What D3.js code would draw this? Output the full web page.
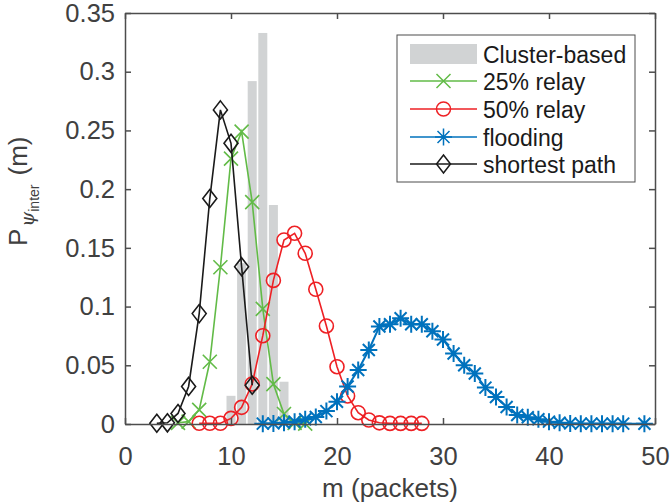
<!DOCTYPE html>
<html>
<head>
<meta charset="utf-8">
<script src="https://cdn.jsdelivr.net/npm/d3@7"></script>
<style>
  body { margin: 0; background: #fff; }
  svg { font-family: "Liberation Sans", Arial, Helvetica, sans-serif; }
</style>
</head>
<body>
<div id="chart"></div>
<script>
// data
const barM = [10, 11, 12, 13, 14, 15];
const barP = [0.024, 0.137, 0.292, 0.333, 0.1865, 0.036];

const relay25M = [5, 6, 7, 8, 9, 10, 11, 12, 13, 14, 15, 16, 17];
const relay25P = [0.001, 0.002, 0.012, 0.053, 0.1335, 0.226, 0.249, 0.189, 0.098, 0.034, 0.0085, 0.001, 0.0003];

const relay50M = [7, 8, 9, 10, 11, 12, 13, 14, 15, 16, 17, 18, 19, 20, 21, 22, 23, 24, 25, 26, 27, 28];
const relay50P = [0.0006, 0.0006, 0.0006, 0.0048, 0.0142, 0.0341, 0.0752, 0.1223, 0.1567, 0.1624, 0.1454,
                  0.1147, 0.0835, 0.0488, 0.0239, 0.0096, 0.0034, 0.001, 0.0005, 0.0005, 0.0005, 0.0005];

const floodM = [13, 14, 15, 16, 17, 18, 19, 20, 21, 22, 23, 24, 25, 26, 27, 28, 29, 30, 31, 32, 33, 34, 35,
                36, 37, 38, 39, 40, 41, 42, 43, 44, 45, 46, 47, 49];
const floodP = [0.0003, 0.0005, 0.001, 0.002, 0.004, 0.006, 0.011, 0.019, 0.032, 0.046, 0.063, 0.083, 0.085,
                0.090, 0.085, 0.085, 0.079, 0.072, 0.060, 0.050, 0.043, 0.031, 0.023, 0.0145, 0.0077, 0.0057,
                0.004, 0.002, 0.001, 0.0005, 0.0003, 0.0003, 0.0003, 0.0003, 0.0003, 0.0002];

const shortM = [3, 4, 5, 6, 7, 8, 9, 10, 11, 12];
const shortP = [0.0006, 0.001, 0.009, 0.032, 0.094, 0.192, 0.2675, 0.239, 0.134, 0.033];

const xTicks = [0, 10, 20, 30, 40, 50];
const yTicks = [0, 0.05, 0.1, 0.15, 0.2, 0.25, 0.3, 0.35];
const legendNames = ["Cluster-based", "25% relay", "50% relay", "flooding", "shortest path"];

drawChart();

function drawChart() {
  const width = 670, height = 504;
  const left = 125, right = 655, top = 13, bottom = 424;
  const axisColor = "#4d4d4d";

  const svg = d3.select("#chart").append("svg")
    .attr("width", width)
    .attr("height", height);

  const x = d3.scaleLinear().domain([0, 50]).range([left, right]);
  const y = d3.scaleLinear().domain([0, 0.35]).range([bottom, top]);

  // bars
  const bw = (x(1) - x(0)) * 0.85;
  svg.append("g").selectAll("rect")
    .data(barM.map((m, i) => ({ m: m, p: barP[i] })))
    .join("rect")
    .attr("x", d => x(d.m) - bw / 2)
    .attr("y", d => y(d.p))
    .attr("width", bw)
    .attr("height", d => y(0) - y(d.p))
    .attr("fill", "#d1d3d4");

  // marker shapes
  const markers = {
    x: "M-7,-7L7,7M-7,7L7,-7",
    circle: "M-7,0a7,7 0 1,0 14,0a7,7 0 1,0 -14,0",
    star: "M0,-8.5L0,8.5M-8.5,0L8.5,0M-6,-6L6,6M-6,6L6,-6",
    diamond: "M0,-9L7,0L0,9L-7,0Z"
  };

  const series = [
    { m: relay25M, p: relay25P, color: "#62bb47", marker: "x" },
    { m: relay50M, p: relay50P, color: "#ee2024", marker: "circle" },
    { m: floodM, p: floodP, color: "#0072bd", marker: "star" },
    { m: shortM, p: shortP, color: "#1a1a1a", marker: "diamond" }
  ];

  const line = d3.line().x(d => x(d[0])).y(d => y(d[1]));

  series.forEach(s => {
    const pts = s.m.map((m, i) => [m, s.p[i]]);
    const g = svg.append("g");
    g.append("path")
      .attr("d", line(pts))
      .attr("fill", "none")
      .attr("stroke", s.color)
      .attr("stroke-width", s.marker === "star" ? 2 : 1.6);
    g.selectAll(".mk")
      .data(pts)
      .join("path")
      .attr("transform", d => "translate(" + x(d[0]) + "," + y(d[1]) + ")")
      .attr("d", markers[s.marker])
      .attr("fill", "none")
      .attr("stroke", s.color)
      .attr("stroke-width", s.marker === "star" ? 2 : 1.6);
  });

  // axes with inward ticks, box all round
  const fmt = d3.format("~g");
  const gx = svg.append("g").attr("transform", "translate(0," + bottom + ")")
    .call(d3.axisBottom(x).tickValues(xTicks).tickSizeInner(-6).tickSizeOuter(0).tickPadding(23));
  const gy = svg.append("g").attr("transform", "translate(" + left + ",0)")
    .call(d3.axisLeft(y).tickValues(yTicks).tickFormat(fmt).tickSizeInner(-6).tickSizeOuter(0).tickPadding(10));
  const gt = svg.append("g").attr("transform", "translate(0," + top + ")")
    .call(d3.axisTop(x).tickValues(xTicks).tickSizeInner(-6).tickSizeOuter(0).tickFormat(""));
  const gr = svg.append("g").attr("transform", "translate(" + right + ",0)")
    .call(d3.axisRight(y).tickValues(yTicks).tickSizeInner(-6).tickSizeOuter(0).tickFormat(""));

  [gx, gy, gt, gr].forEach(g => {
    g.select(".domain").attr("stroke", axisColor).attr("stroke-width", 1.5);
    g.selectAll(".tick line").attr("stroke", axisColor).attr("stroke-width", 1.5);
    g.selectAll(".tick text").attr("fill", "#404040").style("font-size", "25.5px");
  });
  gx.selectAll(".tick text").attr("dy", "0").attr("y", 41);

  // axis labels
  svg.append("text")
    .attr("x", (left + right) / 2)
    .attr("y", 497)
    .attr("text-anchor", "middle")
    .attr("fill", "#404040")
    .style("font-size", "26px")
    .text("m (packets)");

  const yl = svg.append("text")
    .attr("transform", "translate(27,246) rotate(-90)")
    .attr("fill", "#404040")
    .style("font-size", "26px");
  yl.append("tspan").text("P");
  yl.append("tspan").attr("dy", 7).attr("dx", 2).attr("font-style", "italic").style("font-size", "19px")
    .style("font-family", "'DejaVu Serif', serif").text("\u03c8");
  yl.append("tspan").attr("dy", 5).style("font-size", "14px").text("inter");
  yl.append("tspan").attr("dy", -12).attr("dx", 9).text("(m)");

  // legend
  const lg = svg.append("g");
  lg.append("rect")
    .attr("x", 397).attr("y", 35)
    .attr("width", 238).attr("height", 147)
    .attr("fill", "#fff")
    .attr("stroke", axisColor)
    .attr("stroke-width", 1);

  const rowY = [54, 81, 109, 137, 164];
  legendNames.forEach((name, i) => {
    const cy = rowY[i];
    if (i === 0) {
      lg.append("rect")
        .attr("x", 410).attr("y", cy - 10)
        .attr("width", 67).attr("height", 20)
        .attr("fill", "#d1d3d4");
    } else {
      const s = series[i - 1];
      lg.append("line")
        .attr("x1", 410).attr("x2", 477)
        .attr("y1", cy).attr("y2", cy)
        .attr("stroke", s.color).attr("stroke-width", 1.5);
      lg.append("path")
        .attr("transform", "translate(443.5," + cy + ")")
        .attr("d", markers[s.marker])
        .attr("fill", "none")
        .attr("stroke", s.color)
        .attr("stroke-width", 1.5);
    }
    lg.append("text")
      .attr("x", 483)
      .attr("y", cy + 8.5)
      .attr("fill", "#1a1a1a")
      .style("font-size", "23px")
      .text(name);
  });
}
</script>
</body>
</html>
